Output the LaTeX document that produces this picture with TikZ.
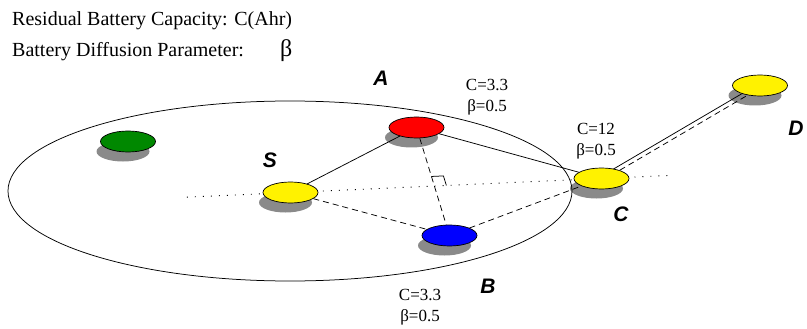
\documentclass[tikz,border=0pt]{standalone}
\usepackage{fontspec}
\setmainfont{Liberation Serif}
\newfontfamily\lsans{Liberation Sans}
\usetikzlibrary{shapes.geometric,calc,intersections}
\pgfdeclarelayer{background}
\pgfsetlayers{background,main}
\definecolor{shadowc}{RGB}{138,138,138}
\definecolor{nodegreen}{RGB}{0,136,0}
\tikzset{
  sensor/.style={ellipse, draw=black, line width=0.7pt, minimum width=55pt, minimum height=21pt, inner sep=0pt},
  link/.style={line width=0.75pt},
  dlink/.style={line width=0.75pt, dash pattern=on 6pt off 4pt},
  dotline/.style={line width=0.9pt, dash pattern=on 1pt off 7pt},
  letter/.style={font=\lsans\bfseries\itshape\fontsize{21}{22}\selectfont, inner sep=0pt},
  param/.style={font=\fontsize{17}{21}\selectfont, align=center, inner sep=0pt},
  legend/.style={font=\fontsize{20}{22}\selectfont, anchor=base west, inner sep=0pt}
}
\begin{document}
\begin{tikzpicture}[x=1pt,y=-1pt]
\useasboundingbox (0,0) rectangle (807,329);
% legend
\node[legend] (l1) at (12,26) {Residual Battery Capacity: C(Ahr)};
\node[legend] (l2) at (12,57) {Battery Diffusion Parameter:};
\node[legend, font=\fontsize{24}{24}\selectfont] (l3) at (280,57) {β};
% range
\node[ellipse, draw, line width=0.75pt, minimum width=564pt, minimum height=180pt, inner sep=0pt] (area) at (290,191) {};
% sensors
\node[sensor, fill=nodegreen] (g) at (128,141.5) {};
\node[sensor, fill=yellow] (s) at (290.5,192.5) {};
\node[sensor, fill=red] (a) at (416.5,127.5) {};
\node[sensor, fill=blue] (b) at (449.5,235.5) {};
\node[sensor, fill=yellow] (c) at (601.5,178.5) {};
\node[sensor, fill=yellow] (d) at (760,85.5) {};
% letters
\node[letter] (la) at (381,78) {A};
\node[letter] (ls) at (270,160) {S};
\node[letter] (lc) at (621,214) {C};
\node[letter] (lb) at (488,286) {B};
\node[letter] (ld) at (796,128) {D};
% parameters
\node[param] (pa) at (487,97.5) {C=3.3\\β=0.5};
\node[param] (pc) at (596,141.5) {C=12\\β=0.5};
\node[param] (pb) at (420,307.5) {C=3.3\\β=0.5};
\begin{pgfonlayer}{background}
  \foreach \n in {g,s,a,b,c,d}{
    \fill[shadowc] ($(\n.center)+(-5,10)$) ellipse [x radius=26.5, y radius=10];
  }
  % dotted reference line
  \draw[dotline] ($(s.center)!-0.333!(c.center)$) coordinate (dl) -- ($(s.center)!1.23!(c.center)$) coordinate (dr);
  % links
  \draw[link] (s) -- (a);
  \draw[link] (a) -- (c);
  \draw[dlink] (s) -- (b);
  \draw[dlink] (b) -- (c);
  \draw[dlink] (a) -- (b);
  \draw[link] ([shift={(-1.1,-1.8)}]c.center) -- ([shift={(-1.1,-1.8)}]d.center);
  \draw[dlink] ([shift={(1.1,1.8)}]c.center) -- ([shift={(1.1,1.8)}]d.center);
  % right angle mark
  \path[name path=ab] (a.center) -- (b.center);
  \path[name path=sc] (s.center) -- (c.center);
  \path[name intersections={of=ab and sc, by=x}];
  \coordinate (p1) at ($(x)!10pt!(a.center)$);
  \coordinate (p3) at ($(x)!12pt!(c.center)$);
  \coordinate (p2) at ($(p1)+(p3)-(x)$);
  \draw[line width=0.75pt] (p1) -- (p2) -- (p3);
\end{pgfonlayer}
\end{tikzpicture}
\end{document}
